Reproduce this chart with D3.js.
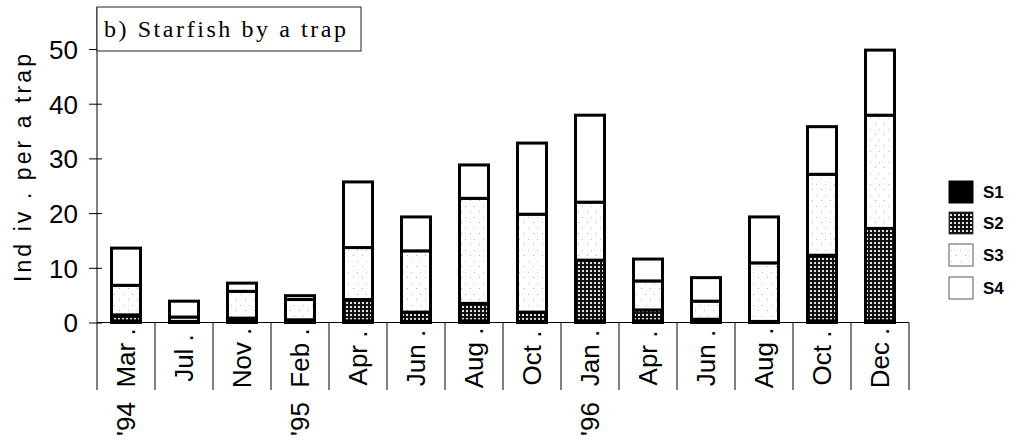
<!DOCTYPE html>
<html>
<head>
<meta charset="utf-8">
<script src="https://cdn.jsdelivr.net/npm/d3@7"></script>
<style>
  html, body { margin: 0; padding: 0; background: #fff; }
  svg { display: block; }
</style>
</head>
<body>
<svg id="chart" width="1010" height="440"></svg>
<script>
// Sampling dates and yearly markers
const months = ["Mar .", "Jul .", "Nov .", "Feb .", "Apr .", "Jun .", "Aug .", "Oct .", "Jan .", "Apr .", "Jun .", "Aug .", "Oct .", "Dec ."];
const years  = ["'94", "", "", "'95", "", "", "", "", "'96", "", "", "", "", ""];

// Individuals per trap, by size class
const s1 = [0.3, 0.2, 0.3, 0.3, 0.3, 0.2, 0.3, 0.2, 0.3, 0.3, 0.6, 0.2, 0.3, 0.3];
const s2 = [1.1, 0.0, 0.5, 0.2, 3.9, 1.7, 3.2, 1.7, 11.1, 2.0, 0.0, 0.0, 12.0, 16.9];
const s3 = [5.4, 0.8, 4.9, 3.7, 9.5, 11.2, 19.2, 17.9, 10.6, 5.3, 3.3, 10.7, 14.8, 20.7];
const s4 = [6.8, 2.9, 1.5, 0.7, 12.0, 6.2, 6.1, 13.0, 15.9, 4.0, 4.3, 8.4, 8.7, 11.9];

const seriesNames = ["S1", "S2", "S3", "S4"];
const yTicks = [0, 10, 20, 30, 40, 50];

const rows = months.map((m, i) => ({ idx: i, S1: s1[i], S2: s2[i], S3: s3[i], S4: s4[i] }));

const svg = d3.select("#chart");
const defs = svg.append("defs");

// S2: dark cross-hatched fill
const p2 = defs.append("pattern").attr("id", "pat-s2").attr("patternUnits", "userSpaceOnUse")
  .attr("width", 4).attr("height", 4);
p2.append("rect").attr("width", 4).attr("height", 4).attr("fill", "#fff");
p2.append("rect").attr("x", 0).attr("y", 0).attr("width", 4).attr("height", 2).attr("fill", "#111");
p2.append("rect").attr("x", 0).attr("y", 0).attr("width", 2).attr("height", 4).attr("fill", "#111");
p2.append("rect").attr("x", 2.6).attr("y", 2.6).attr("width", 0.8).attr("height", 0.8).attr("fill", "#444");

// S3: light stipple
const p3 = defs.append("pattern").attr("id", "pat-s3").attr("patternUnits", "userSpaceOnUse")
  .attr("width", 9).attr("height", 11);
p3.append("rect").attr("width", 9).attr("height", 11).attr("fill", "#fff");
p3.append("rect").attr("x", 2).attr("y", 2).attr("width", 1).attr("height", 1).attr("fill", "#b0b0b0");
p3.append("rect").attr("x", 6).attr("y", 8).attr("width", 1).attr("height", 1).attr("fill", "#c0c0c0");

const fills = { S1: "#000", S2: "url(#pat-s2)", S3: "url(#pat-s3)", S4: "#fff" };

const x0 = 97, x1 = 909, yTop = 49, yBase = 322.5;

const x = d3.scaleBand()
  .domain(rows.map(d => d.idx))
  .range([x0, x1])
  .paddingInner(0.5)
  .paddingOuter(0.25);

const y = d3.scaleLinear().domain([0, 50]).range([yBase, yTop]);

// Category separators below the baseline
const step = x.step();
const seps = d3.range(months.length + 1).map(i => x0 + i * step);
svg.append("g").selectAll("line").data(seps).join("line")
  .attr("x1", d => d).attr("x2", d => d)
  .attr("y1", yBase).attr("y2", 390)
  .attr("stroke", "#000").attr("stroke-width", 1);

// Baseline
svg.append("line")
  .attr("x1", x0).attr("x2", x1).attr("y1", yBase).attr("y2", yBase)
  .attr("stroke", "#000").attr("stroke-width", 1.2);

// Y axis
const yAxis = d3.axisLeft(y).tickValues(yTicks).tickSize(0).tickPadding(19);
const gy = svg.append("g").attr("transform", `translate(${x0},0)`).call(yAxis);
gy.select(".domain").remove();
gy.selectAll("text")
  .attr("font-family", "'Liberation Sans', Arial, sans-serif")
  .attr("font-size", 26).attr("fill", "#000").attr("dy", "0.36em");
gy.selectAll(".tick").append("line")
  .attr("x1", -8).attr("x2", 5).attr("y1", 0).attr("y2", 0)
  .attr("stroke", "#000").attr("stroke-width", 1);
svg.append("line")
  .attr("x1", x0).attr("x2", x0).attr("y1", 7).attr("y2", yBase)
  .attr("stroke", "#000").attr("stroke-width", 1);

// Y axis title
svg.append("text")
  .attr("transform", "translate(31,168) rotate(-90)")
  .attr("text-anchor", "middle")
  .attr("font-family", "'Liberation Sans', Arial, sans-serif")
  .attr("font-size", 23)
  .attr("textLength", 228).attr("lengthAdjust", "spacing")
  .text("Ind iv . per a trap");

// Stacked bars
const stacked = d3.stack().keys(seriesNames)(rows);
const gBars = svg.append("g");
stacked.forEach(layer => {
  gBars.append("g").selectAll("rect")
    .data(layer.filter(d => d[1] - d[0] > 0))
    .join("rect")
    .attr("x", d => x(d.data.idx))
    .attr("width", x.bandwidth())
    .attr("y", d => y(d[1]))
    .attr("height", d => y(d[0]) - y(d[1]))
    .attr("fill", fills[layer.key])
    .attr("stroke", "#000")
    .attr("stroke-width", 3);
});

// Month labels (rotated)
svg.append("g").selectAll("text").data(rows).join("text")
  .attr("transform", d => `translate(${x(d.idx) + x.bandwidth() / 2},358) rotate(-90)`)
  .attr("text-anchor", "middle")
  .attr("dy", "0.36em")
  .attr("font-family", "'Liberation Sans', Arial, sans-serif")
  .attr("font-size", 26)
  .text(d => months[d.idx]);

// Year labels (rotated)
svg.append("g").selectAll("text").data(rows.filter(d => years[d.idx] !== "")).join("text")
  .attr("transform", d => `translate(${x(d.idx) + x.bandwidth() / 2},419) rotate(-90)`)
  .attr("text-anchor", "middle")
  .attr("dy", "0.36em")
  .attr("font-family", "'Liberation Sans', Arial, sans-serif")
  .attr("font-size", 26)
  .text(d => years[d.idx]);

// Panel title box
svg.append("rect")
  .attr("x", 97).attr("y", 7).attr("width", 264).attr("height", 44)
  .attr("fill", "#fff").attr("stroke", "#222").attr("stroke-width", 1);
svg.append("text")
  .attr("x", 104).attr("y", 37)
  .attr("font-family", "'Liberation Serif', 'Times New Roman', serif")
  .attr("font-size", 24)
  .attr("textLength", 242).attr("lengthAdjust", "spacing")
  .text("b) Starfish by a trap");

// Legend
const legend = svg.append("g");
const legY = [181, 212, 244, 277];
seriesNames.forEach((k, i) => {
  legend.append("rect")
    .attr("x", 949).attr("y", legY[i]).attr("width", 24).attr("height", 22)
    .attr("fill", fills[k]).attr("stroke", k === "S1" ? "#000" : "#333")
    .attr("stroke-width", k === "S1" ? 1 : 0.8);
  legend.append("text")
    .attr("x", 983).attr("y", legY[i] + 17)
    .attr("font-family", "'Liberation Sans', Arial, sans-serif")
    .attr("font-size", 17).attr("font-weight", "bold")
    .text(k);
});
</script>
</body>
</html>
